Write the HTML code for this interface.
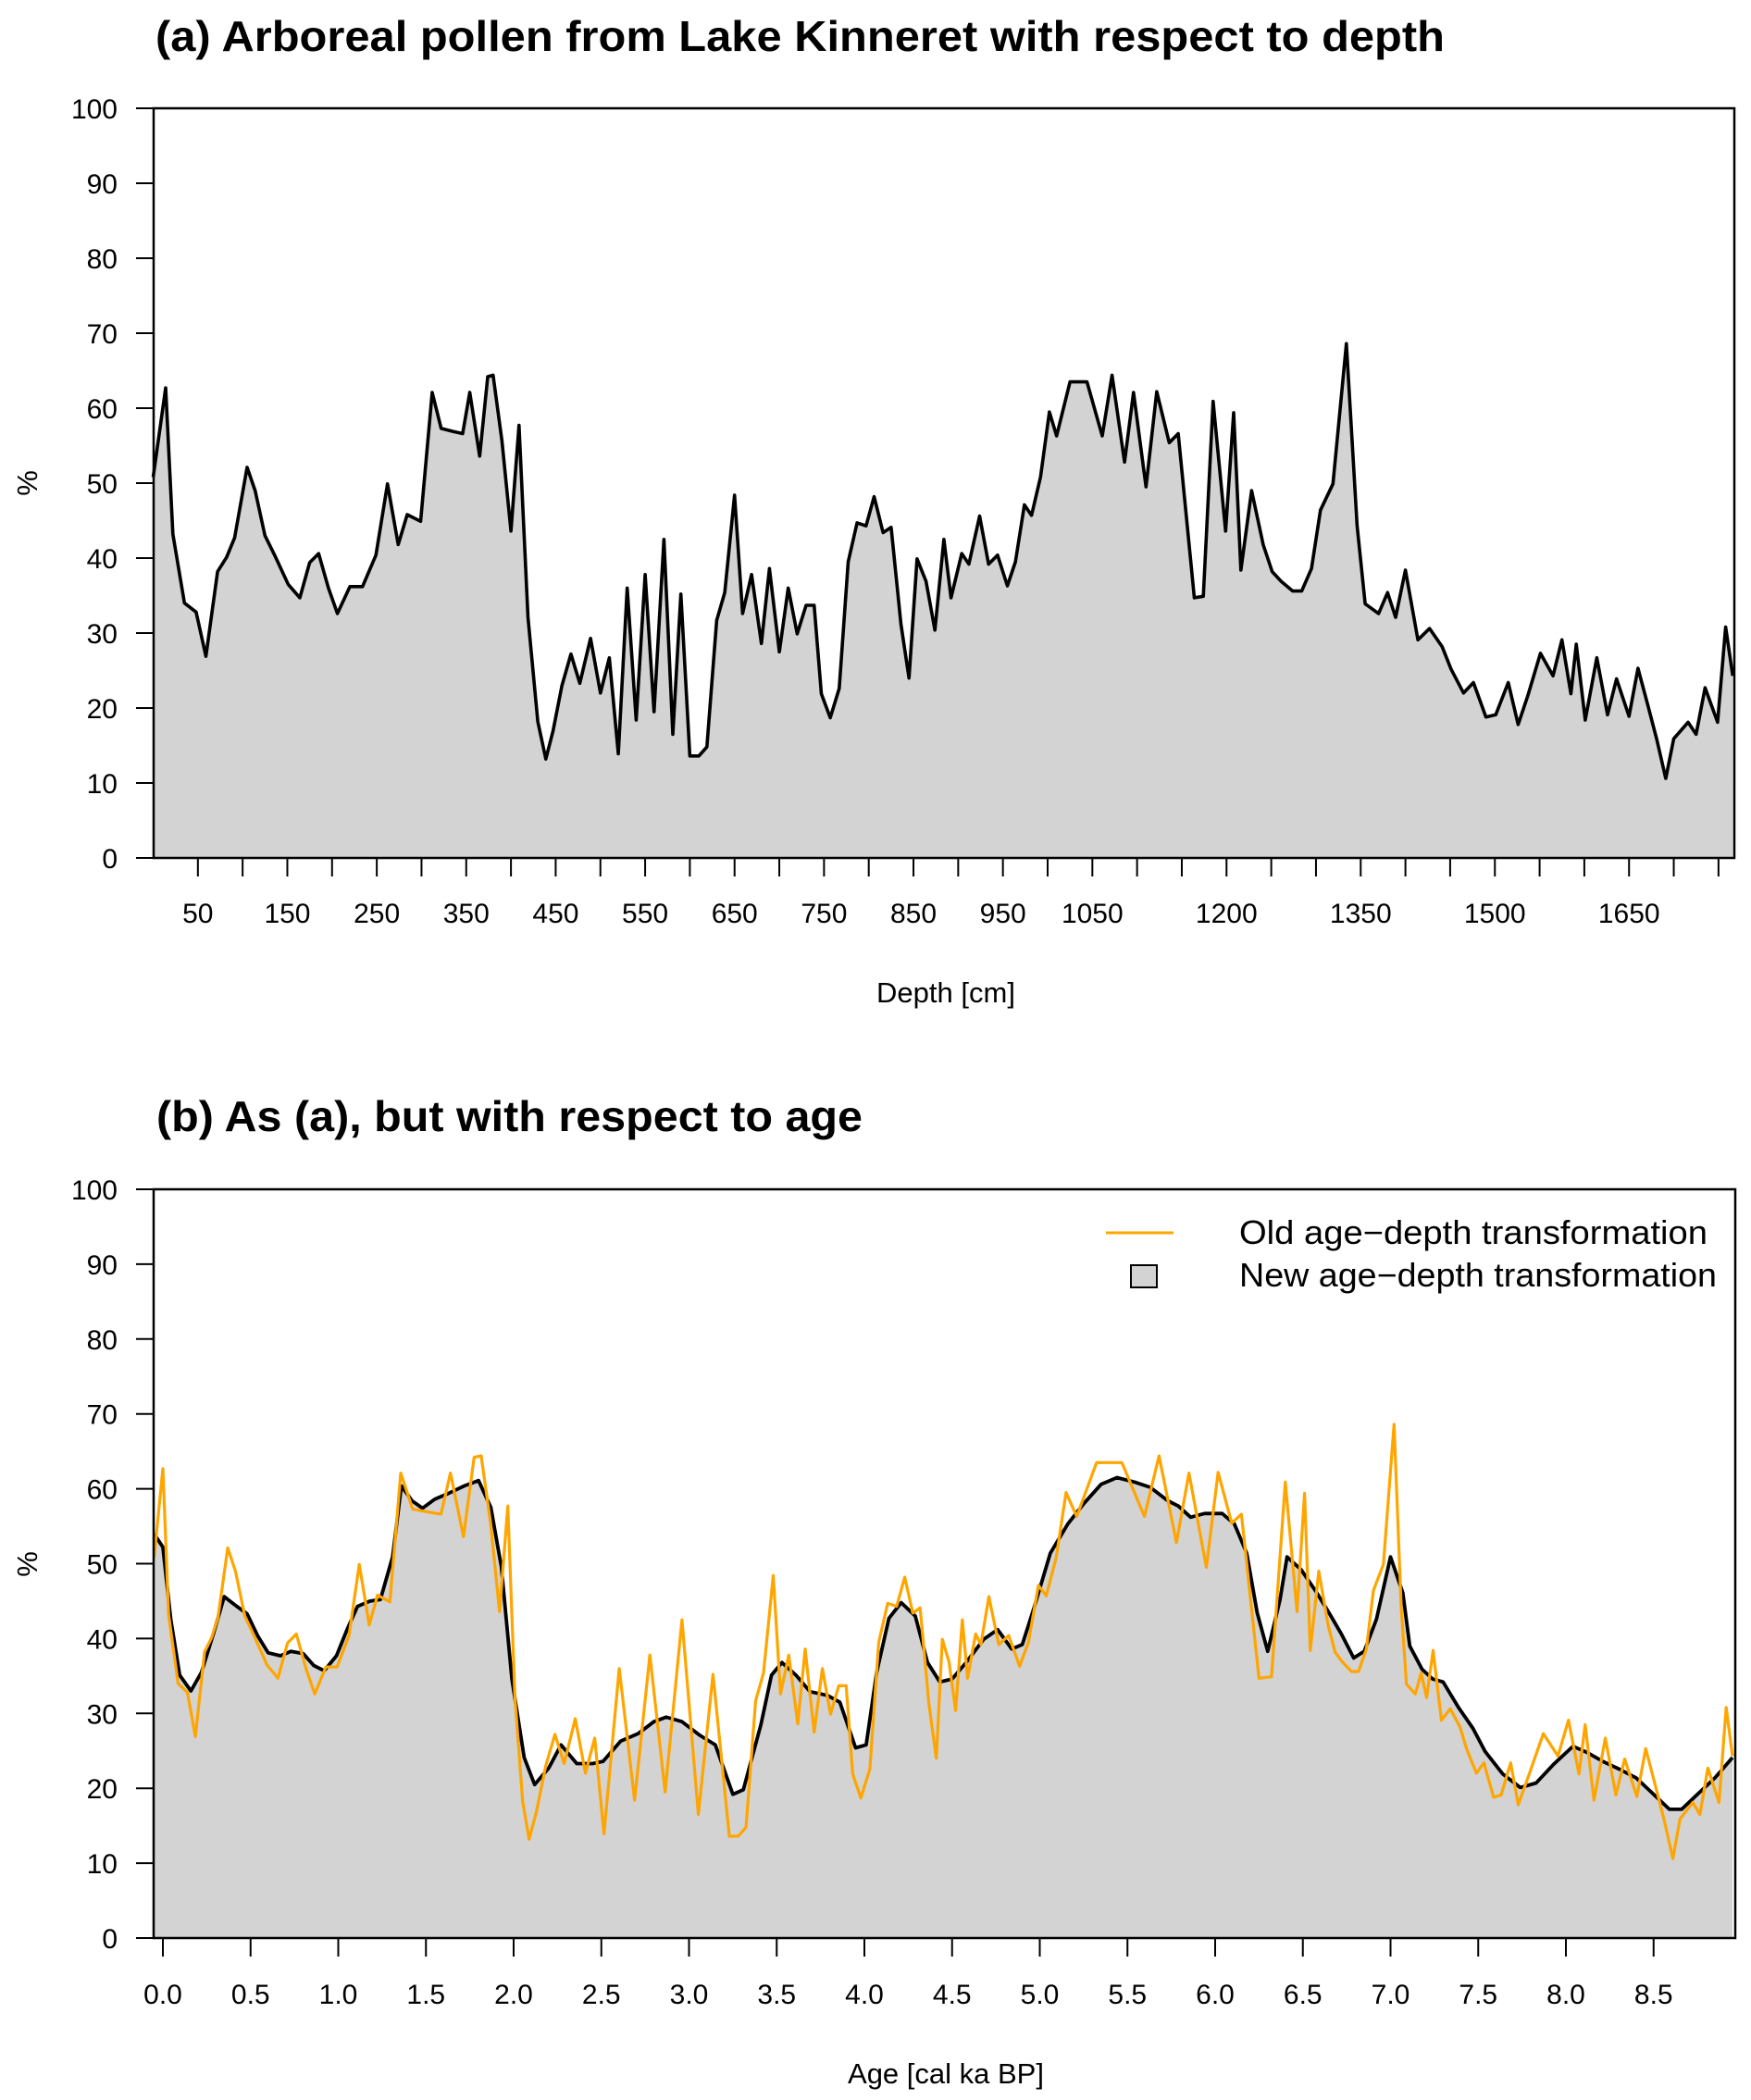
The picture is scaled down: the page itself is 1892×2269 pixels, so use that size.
<!DOCTYPE html>
<html><head><meta charset="utf-8"><style>
html,body{margin:0;padding:0;background:#fff}
svg{display:block}
text{font-family:"Liberation Sans",sans-serif;fill:#000}
</style></head><body>
<svg id="fig" width="1892" height="2269" viewBox="0 0 1892 2269" xmlns="http://www.w3.org/2000/svg">
<rect width="1892" height="2269" fill="#fff"/>
<text x="168" y="55" font-size="46" font-weight="bold" textLength="1393" lengthAdjust="spacingAndGlyphs">(a) Arboreal pollen from Lake Kinneret with respect to depth</text>
<text x="169" y="1222" font-size="46" font-weight="bold" textLength="763" lengthAdjust="spacingAndGlyphs">(b) As (a), but with respect to age</text>
<g id="pa"></g>
<g id="pb"></g>
</svg>
<script>
// Panel (a) data: depth [cm] and arboreal pollen [%]
const depths = [0,14,22,35,48,59,72,82,91,105,114,125,137,151,164,175,185,196,206,220,234,249,262,274,284,299,312,322,335,346,354,365,374,380,390,400,409,419,430,439,447,457,467,477,489,500,510,520,530,540,550,560,571,581,590,600,610,619,630,639,650,659,669,680,689,700,710,720,730,739,747,757,767,777,787,797,806,816,825,836,845,854,864,874,884,892,904,912,924,934,944,955,964,974,982,992,1002,1010,1025,1044,1061,1072,1086,1096,1110,1122,1136,1146,1164,1174,1185,1199,1208,1216,1228,1241,1251,1261,1274,1284,1295,1305,1319,1334,1346,1355,1370,1380,1389,1400,1414,1427,1441,1451,1465,1476,1490,1501,1515,1526,1537,1551,1565,1575,1585,1591,1601,1614,1626,1636,1650,1660,1671,1681,1691,1700,1716,1725,1735,1749,1758,1766];
const pollen = [50.8,62.7,43.2,34,32.8,26.9,38.2,40.1,42.7,52.1,49,43,40.1,36.5,34.7,39.4,40.6,36,32.6,36.2,36.2,40.4,49.9,41.8,45.8,44.9,62.1,57.3,56.9,56.6,62.1,53.6,64.2,64.4,55.6,43.6,57.7,32.1,18.2,13.2,16.9,23,27.2,23.3,29.3,22,26.7,13.9,36,18.4,37.8,19.5,42.5,16.5,35.2,13.6,13.6,14.8,31.7,35.4,48.4,32.6,37.8,28.6,38.6,27.5,36,29.9,33.7,33.7,21.9,18.7,22.6,39.5,44.7,44.3,48.2,43.4,44.1,31.2,24,39.9,36.9,30.4,42.5,34.7,40.6,39.2,45.6,39.2,40.4,36.3,39.5,47.1,45.7,50.8,59.5,56.3,63.5,63.5,56.3,64.4,52.8,62.1,49.5,62.2,55.4,56.6,34.7,34.9,60.9,43.6,59.4,38.4,49,41.8,38.2,36.9,35.6,35.6,38.6,46.4,49.9,68.6,44.3,33.9,32.6,35.4,32.1,38.4,29.1,30.6,28.2,25.2,22,23.4,18.8,19.1,23.4,17.8,21.7,27.3,24.3,29.1,21.9,28.5,18.4,26.7,19.1,23.9,18.9,25.3,20.4,15.8,10.6,15.9,18.1,16.5,22.7,18.1,30.8,24.3];
const depthTicks = [50,100,150,200,250,300,350,400,450,500,550,600,650,700,750,800,850,900,950,1000,1050,1100,1150,1200,1250,1300,1350,1400,1450,1500,1550,1600,1650,1700,1750];
const depthLabels = ["50","","150","","250","","350","","450","","550","","650","","750","","850","","950","","1050","","","1200","","","1350","","","1500","","","1650","",""];
const pctTicks = [0,10,20,30,40,50,60,70,80,90,100];
// Old age-depth model (depth [cm] -> age [cal ka BP])
const oldModelDepth = [0,14,59,105,164,206,262,312,380,409,439,520,571,600,650,757,806,845,924,1002,1072,1110,1164,1185,1208,1334,1414,1529,1591,1691,1766];
const oldModelAge = [-0.05,0.0,0.185,0.37,0.656,0.866,1.12,1.356,1.815,1.967,2.088,2.515,2.96,3.23,3.48,3.98,4.23,4.41,4.71,5.15,5.68,5.95,6.25,6.40,6.51,7.02,7.29,7.74,8.11,8.61,8.95];
// New age-depth transformation (smoothed series)
const newAges = [-0.05,0.0,0.045,0.096,0.16,0.22,0.29,0.35,0.41,0.48,0.54,0.60,0.67,0.73,0.80,0.86,0.92,0.99,1.05,1.11,1.18,1.24,1.31,1.36,1.42,1.48,1.55,1.62,1.72,1.80,1.87,1.93,1.99,2.06,2.12,2.20,2.27,2.36,2.45,2.51,2.61,2.71,2.80,2.87,2.96,3.06,3.15,3.25,3.31,3.41,3.47,3.53,3.61,3.69,3.79,3.86,3.95,4.01,4.07,4.14,4.21,4.29,4.36,4.43,4.50,4.58,4.68,4.76,4.84,4.90,4.97,5.06,5.16,5.25,5.35,5.44,5.54,5.63,5.73,5.79,5.86,5.94,6.04,6.11,6.18,6.24,6.30,6.37,6.41,6.49,6.58,6.65,6.72,6.79,6.85,6.92,7.00,7.07,7.11,7.18,7.24,7.30,7.39,7.47,7.54,7.64,7.74,7.83,7.93,8.04,8.12,8.21,8.31,8.40,8.50,8.59,8.66,8.75,8.85,8.95];
const newVals = [54.0,52.2,42.6,35.1,33.0,35.5,40.8,45.6,44.5,43.3,40.4,38.1,37.7,38.3,38.0,36.4,35.7,37.7,41.2,44.3,45.0,45.2,50.9,60.4,58.4,57.4,58.6,59.3,60.4,61.1,57.5,49.6,34.6,24.1,20.5,22.7,25.8,23.3,23.3,23.6,26.3,27.3,28.9,29.5,28.9,27.1,25.8,19.2,19.8,28.5,35.1,36.8,35.1,32.9,32.4,31.5,25.4,25.8,35.5,42.7,44.8,43.0,36.8,34.2,34.6,36.8,39.9,41.2,38.6,39.2,44.3,51.4,55.3,58.0,60.6,61.5,60.9,60.2,58.4,57.7,56.2,56.7,56.7,55.3,51.4,43.4,38.3,45.2,50.9,49.2,46.1,43.4,40.6,37.4,38.3,42.6,50.9,46.1,39.0,35.9,34.6,34.2,30.7,28.0,24.9,21.9,20.1,20.7,23.2,25.6,24.8,23.6,22.5,21.4,19.2,17.2,17.2,19.2,21.4,24.1];
const ageTicks = [0,0.5,1,1.5,2,2.5,3,3.5,4,4.5,5,5.5,6,6.5,7,7.5,8,8.5];
const ageLabels = ["0.0","0.5","1.0","1.5","2.0","2.5","3.0","3.5","4.0","4.5","5.0","5.5","6.0","6.5","7.0","7.5","8.0","8.5"];

const NS="http://www.w3.org/2000/svg";
function mk(parent,tag,attrs,txt){const e=document.createElementNS(NS,tag);for(const k in attrs)e.setAttribute(k,attrs[k]);if(txt!==undefined)e.textContent=txt;parent.appendChild(e);return e;}

const A={L:166,R:1874,T:117,B:927};
const xa=d=>165.5+d*0.9665;
const ya=p=>A.B-p*(A.B-A.T)/100;
const Bp={L:166,R:1875,T:1285,B:2094};
const xb=a=>176+a*189.5;
const yb=p=>Bp.B-p*(Bp.B-Bp.T)/100;

function interp(x,xs,ys){if(x<=xs[0])return ys[0];for(let i=1;i<xs.length;i++){if(x<=xs[i]){const t=(x-xs[i-1])/(xs[i]-xs[i-1]);return ys[i-1]+t*(ys[i]-ys[i-1]);}}return ys[ys.length-1];}

function yAxis(g,P,yf,name){
  for(const v of pctTicks){
    const t=mk(g,'line',{x1:147,x2:P.L,y1:yf(v),y2:yf(v),stroke:'#000','stroke-width':2});
    
    
    const l=mk(g,'text',{x:127,y:yf(v)+11,'font-size':30,'text-anchor':'end'},String(v));
    
    
  }
}

// ---- Panel A ----
const ga=document.getElementById('pa');
let pts=depths.map((d,i)=>xa(d).toFixed(1)+','+ya(pollen[i]).toFixed(1));
const fa=mk(ga,'polygon',{points:xa(depths[0])+','+A.B+' '+pts.join(' ')+' '+xa(depths[depths.length-1])+','+A.B,fill:'#d3d3d3',stroke:'none'});


const la=mk(ga,'polyline',{points:pts.join(' '),fill:'none',stroke:'#000','stroke-width':3.6,'stroke-linejoin':'round'});


const ba=mk(ga,'rect',{x:A.L,y:A.T,width:A.R-A.L,height:A.B-A.T,fill:'none',stroke:'#000','stroke-width':2.5});


yAxis(ga,A,ya,'y-axis-a');
depthTicks.forEach((d,i)=>{
  const t=mk(ga,'line',{x1:xa(d),x2:xa(d),y1:A.B,y2:A.B+20,stroke:'#000','stroke-width':2});
  
  
  if(depthLabels[i]){
    const l=mk(ga,'text',{x:xa(d),y:997,'font-size':30,'text-anchor':'middle'},depthLabels[i]);
    
    
  }
});
let t1=mk(ga,'text',{x:1022,y:1083,'font-size':31,'text-anchor':'middle'},'Depth [cm]');


let t2=mk(ga,'text',{x:40,y:522,'font-size':31,'text-anchor':'middle',transform:'rotate(-90 40 522)'},'%');



// ---- Panel B ----
const gb=document.getElementById('pb');
const clip=mk(gb,'clipPath',{id:'cb'});
mk(clip,'rect',{x:Bp.L,y:Bp.T,width:Bp.R-Bp.L,height:Bp.B-Bp.T});
const inner=mk(gb,'g',{'clip-path':'url(#cb)'});
let np=newAges.map((a,i)=>xb(a).toFixed(1)+','+yb(newVals[i]).toFixed(1));
const fb=mk(inner,'polygon',{points:xb(newAges[0])+','+Bp.B+' '+np.join(' ')+' '+xb(newAges[newAges.length-1])+','+Bp.B,fill:'#d3d3d3',stroke:'none'});


const lb=mk(inner,'polyline',{points:np.join(' '),fill:'none',stroke:'#000','stroke-width':3.8,'stroke-linejoin':'round'});


let op=depths.map((d,i)=>xb(interp(d,oldModelDepth,oldModelAge)).toFixed(1)+','+yb(pollen[i]).toFixed(1));
const ob=mk(inner,'polyline',{points:op.join(' '),fill:'none',stroke:'#FFA500','stroke-width':3.2,'stroke-linejoin':'round'});


const bb=mk(gb,'rect',{x:Bp.L,y:Bp.T,width:Bp.R-Bp.L,height:Bp.B-Bp.T,fill:'none',stroke:'#000','stroke-width':2.5});


yAxis(gb,Bp,yb,'y-axis-b');
ageTicks.forEach((a,i)=>{
  const t=mk(gb,'line',{x1:xb(a),x2:xb(a),y1:Bp.B,y2:Bp.B+20,stroke:'#000','stroke-width':2});
  
  
  const l=mk(gb,'text',{x:xb(a),y:2165,'font-size':30,'text-anchor':'middle'},ageLabels[i]);
  
  
});
let t3=mk(gb,'text',{x:1022,y:2251,'font-size':31,'text-anchor':'middle'},'Age [cal ka BP]');


let t4=mk(gb,'text',{x:40,y:1690,'font-size':31,'text-anchor':'middle',transform:'rotate(-90 40 1690)'},'%');


// legend
const lg=mk(gb,'g',{});


let e1=mk(lg,'line',{x1:1195,x2:1268,y1:1332,y2:1332,stroke:'#FFA500','stroke-width':3});


let e2=mk(lg,'text',{x:1339,y:1344,'font-size':36,textLength:506,lengthAdjust:'spacingAndGlyphs'},'Old age\u2212depth transformation');


let e3=mk(lg,'rect',{x:1222,y:1367,width:28,height:24,fill:'#d3d3d3',stroke:'#000','stroke-width':2});


let e4=mk(lg,'text',{x:1339,y:1390,'font-size':36,textLength:516,lengthAdjust:'spacingAndGlyphs'},'New age\u2212depth transformation');


</script>
</body></html>
